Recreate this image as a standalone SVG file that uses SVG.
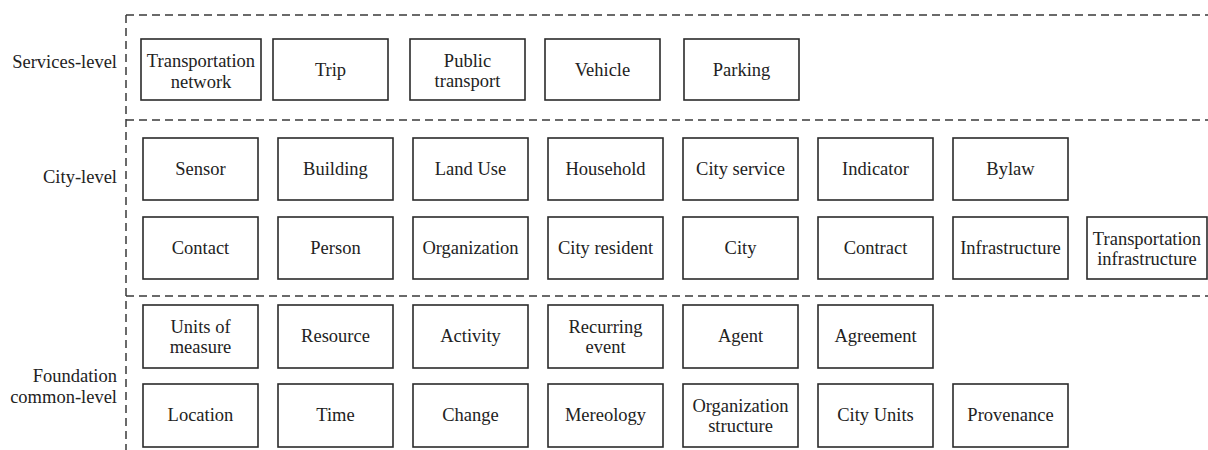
<svg xmlns="http://www.w3.org/2000/svg" width="1208" height="450" viewBox="0 0 1208 450">
<style>
.bg{fill:#fff}
.dash{stroke:#3a3a3a;stroke-width:1.5;stroke-dasharray:8 5;fill:none}
.box{fill:#fff;stroke:#2b2b2b;stroke-width:1.6}
text{font-family:"Liberation Serif","Times New Roman",serif;font-size:18.5px;fill:#222}
.c{text-anchor:middle}
.r{text-anchor:end}
</style>
<rect class="bg" x="0" y="0" width="1208" height="450"/>
<g id="separators">
<line class="dash" x1="126" y1="15" x2="1208" y2="15"/>
<line class="dash" x1="126" y1="120" x2="1208" y2="120"/>
<line class="dash" x1="126" y1="296" x2="1208" y2="296"/>
<line class="dash" x1="126" y1="15" x2="126" y2="450"/>
</g>
<g id="level-labels">
<text class="r" x="117" y="68">Services-level</text>
<text class="r" x="117" y="183">City-level</text>
<text class="r" x="117" y="382">Foundation</text>
<text class="r" x="117" y="403">common-level</text>
</g>
<g id="connectors"></g>
<!-- Services level -->
<g id="n-transportation-network"><rect class="box" x="141" y="39" width="120" height="61"/><text class="c" x="201" y="67">Transportation</text><text class="c" x="201" y="88">network</text></g>
<g id="n-trip"><rect class="box" x="273" y="39" width="115" height="61"/><text class="c" x="330.5" y="76">Trip</text></g>
<g id="n-public-transport"><rect class="box" x="410" y="39" width="115" height="61"/><text class="c" x="467.5" y="67">Public</text><text class="c" x="467.5" y="87">transport</text></g>
<g id="n-vehicle"><rect class="box" x="545" y="39" width="115" height="61"/><text class="c" x="602.5" y="76">Vehicle</text></g>
<g id="n-parking"><rect class="box" x="684" y="39" width="115" height="61"/><text class="c" x="741.5" y="76">Parking</text></g>
<!-- City level row 1 -->
<g id="n-sensor"><rect class="box" x="143" y="138" width="115" height="62"/><text class="c" x="200.5" y="175">Sensor</text></g>
<g id="n-building"><rect class="box" x="278" y="138" width="115" height="62"/><text class="c" x="335.5" y="175">Building</text></g>
<g id="n-land-use"><rect class="box" x="413" y="138" width="115" height="62"/><text class="c" x="470.5" y="175">Land Use</text></g>
<g id="n-household"><rect class="box" x="548" y="138" width="115" height="62"/><text class="c" x="605.5" y="175">Household</text></g>
<g id="n-city-service"><rect class="box" x="683" y="138" width="115" height="62"/><text class="c" x="740.5" y="175">City service</text></g>
<g id="n-indicator"><rect class="box" x="818" y="138" width="115" height="62"/><text class="c" x="875.5" y="175">Indicator</text></g>
<g id="n-bylaw"><rect class="box" x="953" y="138" width="115" height="62"/><text class="c" x="1010.5" y="175">Bylaw</text></g>
<!-- City level row 2 -->
<g id="n-contact"><rect class="box" x="143" y="217" width="115" height="62"/><text class="c" x="200.5" y="254">Contact</text></g>
<g id="n-person"><rect class="box" x="278" y="217" width="115" height="62"/><text class="c" x="335.5" y="254">Person</text></g>
<g id="n-organization"><rect class="box" x="413" y="217" width="115" height="62"/><text class="c" x="470.5" y="254">Organization</text></g>
<g id="n-city-resident"><rect class="box" x="548" y="217" width="115" height="62"/><text class="c" x="605.5" y="254">City resident</text></g>
<g id="n-city"><rect class="box" x="683" y="217" width="115" height="62"/><text class="c" x="740.5" y="254">City</text></g>
<g id="n-contract"><rect class="box" x="818" y="217" width="115" height="62"/><text class="c" x="875.5" y="254">Contract</text></g>
<g id="n-infrastructure"><rect class="box" x="953" y="217" width="115" height="62"/><text class="c" x="1010.5" y="254">Infrastructure</text></g>
<g id="n-transportation-infrastructure"><rect class="box" x="1087" y="217" width="120" height="62"/><text class="c" x="1147" y="245">Transportation</text><text class="c" x="1147" y="265">infrastructure</text></g>
<!-- Foundation row 1 -->
<g id="n-units-of-measure"><rect class="box" x="143" y="305" width="115" height="63"/><text class="c" x="200.5" y="333">Units of</text><text class="c" x="200.5" y="353">measure</text></g>
<g id="n-resource"><rect class="box" x="278" y="305" width="115" height="63"/><text class="c" x="335.5" y="342">Resource</text></g>
<g id="n-activity"><rect class="box" x="413" y="305" width="115" height="63"/><text class="c" x="470.5" y="342">Activity</text></g>
<g id="n-recurring-event"><rect class="box" x="548" y="305" width="115" height="63"/><text class="c" x="605.5" y="333">Recurring</text><text class="c" x="605.5" y="353">event</text></g>
<g id="n-agent"><rect class="box" x="683" y="305" width="115" height="63"/><text class="c" x="740.5" y="342">Agent</text></g>
<g id="n-agreement"><rect class="box" x="818" y="305" width="115" height="63"/><text class="c" x="875.5" y="342">Agreement</text></g>
<!-- Foundation row 2 -->
<g id="n-location"><rect class="box" x="143" y="384" width="115" height="63"/><text class="c" x="200.5" y="421">Location</text></g>
<g id="n-time"><rect class="box" x="278" y="384" width="115" height="63"/><text class="c" x="335.5" y="421">Time</text></g>
<g id="n-change"><rect class="box" x="413" y="384" width="115" height="63"/><text class="c" x="470.5" y="421">Change</text></g>
<g id="n-mereology"><rect class="box" x="548" y="384" width="115" height="63"/><text class="c" x="605.5" y="421">Mereology</text></g>
<g id="n-organization-structure"><rect class="box" x="683" y="384" width="115" height="63"/><text class="c" x="740.5" y="412">Organization</text><text class="c" x="740.5" y="432">structure</text></g>
<g id="n-city-units"><rect class="box" x="818" y="384" width="115" height="63"/><text class="c" x="875.5" y="421">City Units</text></g>
<g id="n-provenance"><rect class="box" x="953" y="384" width="115" height="63"/><text class="c" x="1010.5" y="421">Provenance</text></g>
</svg>
